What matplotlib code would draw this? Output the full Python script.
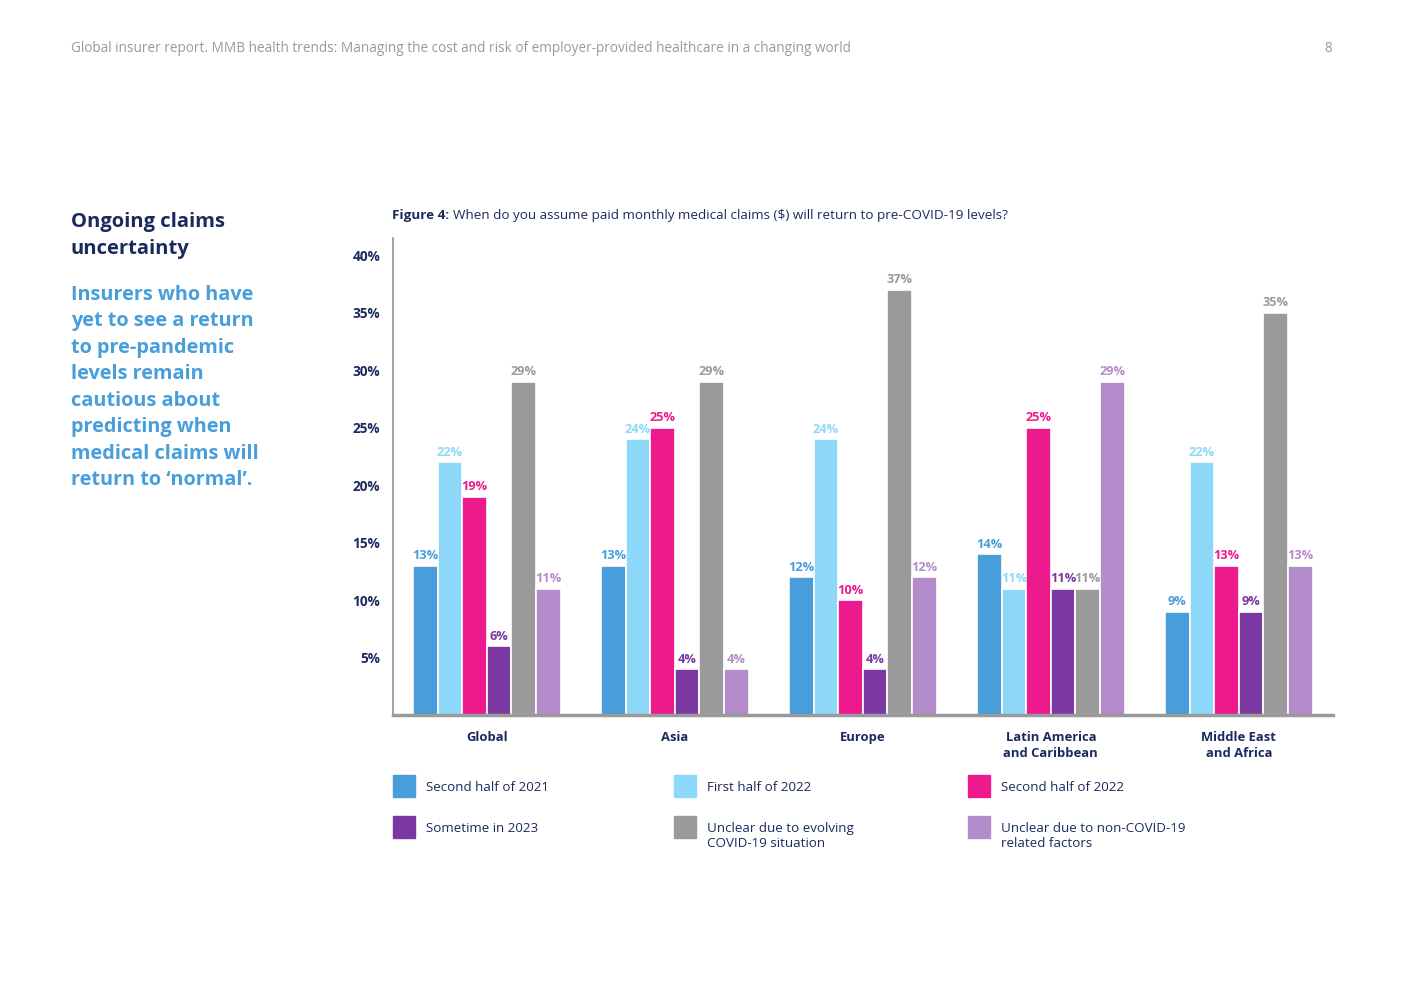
import numpy as np
import matplotlib
matplotlib.use('Agg')
import matplotlib.pyplot as plt
from matplotlib.patches import Rectangle

plt.rcParams['font.family'] = ['Open Sans', 'DejaVu Sans']

# data
regions = ['Global', 'Asia', 'Europe', 'Latin America\nand Caribbean', 'Middle East\nand Africa']
series = ['Second half of 2021', 'First half of 2022', 'Second half of 2022',
          'Sometime in 2023', 'Unclear due to evolving\nCOVID-19 situation',
          'Unclear due to non-COVID-19\nrelated factors']
h2_2021 = [13, 13, 12, 14, 9]
h1_2022 = [22, 24, 24, 11, 22]
h2_2022 = [19, 25, 10, 25, 13]
in_2023 = [6, 4, 4, 11, 9]
unclear_covid = [29, 29, 37, 11, 35]
unclear_other = [11, 4, 12, 29, 13]
yticks = [5, 10, 15, 20, 25, 30, 35, 40]

colors = ['#479edb', '#8dd8f8', '#ec1a8c', '#7a38a0', '#9b9a9b', '#b58ccb']
navy = '#1b2a5e'
blue_text = '#479edb'

values = [h2_2021, h1_2022, h2_2022, in_2023, unclear_covid, unclear_other]

fig = plt.figure(figsize=(14.03, 9.92), dpi=100)
ax = fig.add_axes([0.280, 0.279, 0.670, 0.481])

x = np.arange(len(regions)) + 0.5
pitch = 0.131
for i, (vals, c) in enumerate(zip(values, colors)):
    xs = x + (i - 2.5) * pitch
    ax.bar(xs, vals, width=pitch, color=c, edgecolor='white', linewidth=1.2)
    for xx, v in zip(xs, vals):
        ax.text(xx, v + 0.3, f'{v}%', ha='center', va='bottom', fontsize=9.2,
                fontweight='bold', color=c)

ax.set_xlim(0, 5)
ax.set_ylim(0, 41.5)
ax.set_yticks(yticks)
ax.set_yticklabels([f'{t}%' for t in yticks], fontsize=9.8, fontweight='bold', color=navy)
ax.set_xticks(x)
ax.set_xticklabels(regions, fontsize=9.4, fontweight='bold', color=navy, linespacing=1.3)
ax.tick_params(length=0, pad=9)
ax.tick_params(axis='x', pad=11)
for s in ['top', 'right']:
    ax.spines[s].set_visible(False)
ax.spines['left'].set_color('#9b9a9b')
ax.spines['left'].set_linewidth(1.3)
ax.spines['bottom'].set_color('#9b9a9b')
ax.spines['bottom'].set_linewidth(2.5)

# legend, 3 columns x 2 rows
leg_x = [393, 674, 968]
leg_y = [786, 827]
W, H = 1403, 992
for i, (lab, c) in enumerate(zip(series, colors)):
    px = leg_x[i % 3]
    py = leg_y[i // 3]
    fig.patches.append(Rectangle((px / W, 1 - (py + 11) / H), 22 / W, 22 / H,
                                 transform=fig.transFigure, color=c))
    fig.text((px + 33) / W, 1 - (py - 5) / H, lab, fontsize=9.6, color=navy,
             va='top', ha='left', linespacing=1.2)

# page text
fig.text(71 / W, 1 - 49 / H,
         'Global insurer report. MMB health trends: Managing the cost and risk of '
         'employer-provided healthcare in a changing world',
         fontsize=9.85, color='#9a9a9a', va='center')
fig.text(1332 / W, 1 - 49 / H, '8', fontsize=9.85, color='#9a9a9a', va='center', ha='right')

fig.text(71 / W, 1 - 212 / H, 'Ongoing claims\nuncertainty', fontsize=14.5, fontweight='bold',
         color=navy, va='top', linespacing=1.45)
fig.text(71 / W, 1 - 285 / H,
         'Insurers who have\nyet to see a return\nto pre-pandemic\nlevels remain\n'
         'cautious about\npredicting when\nmedical claims will\nreturn to \u2018normal\u2019.',
         fontsize=14.3, fontweight='bold', color=blue_text, va='top', linespacing=1.43)

fig.text(392 / W, 1 - 215 / H, 'Figure 4:', fontsize=9.7, fontweight='bold',
         color=navy, va='center')
fig.text(453 / W, 1 - 215 / H,
         'When do you assume paid monthly medical claims ($) will return to pre-COVID-19 levels?',
         fontsize=9.7, color=navy, va='center')

fig.savefig('out.png', dpi=100, facecolor='white')
